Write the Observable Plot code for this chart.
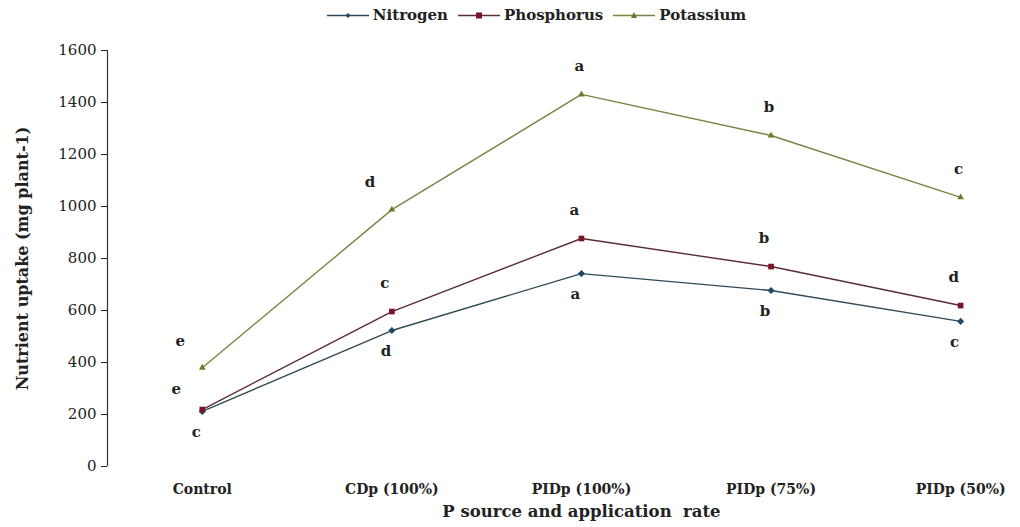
<!DOCTYPE html>
<html>
<head>
<meta charset="utf-8">
<script src="https://cdn.jsdelivr.net/npm/d3@7"></script>
<script src="https://cdn.jsdelivr.net/npm/@observablehq/plot@0.6"></script>
<style>
  body { margin: 0; background: #fff; font-family: "DejaVu Serif", "Liberation Serif", serif; }
  #legend { height: 30px; display: flex; justify-content: center; align-items: center; gap: 10px; font-weight: bold; font-size: 15px; color: #222; padding-left: 53px; box-sizing: border-box; }
  #legend .item { display: flex; align-items: center; gap: 4px; }
</style>
</head>
<body>
<div id="legend"></div>
<div id="chart"></div>
<script>
const categories = ["Control", "CDp (100%)", "PIDp (100%)", "PIDp (75%)", "PIDp (50%)"];
const seriesNames = ["Nitrogen", "Phosphorus", "Potassium"];
const nitrogen = [212, 523, 742, 677, 558];
const phosphorus = [219, 596, 877, 769, 619];
const potassium = [380, 988, 1431, 1273, 1035];
const nitrogenLetters = ["c", "d", "a", "b", "c"];
const phosphorusLetters = ["e", "c", "a", "b", "d"];
const potassiumLetters = ["e", "d", "a", "b", "c"];
const yTicks = [0, 200, 400, 600, 800, 1000, 1200, 1400, 1600];

const lineColors = {Nitrogen: "#2f4b58", Phosphorus: "#5a2c34", Potassium: "#7b8344"};
const markColors = {Nitrogen: "#1f4a66", Phosphorus: "#7a1426", Potassium: "#6b7a2a"};
const symbols = {Nitrogen: "diamond2", Phosphorus: "square", Potassium: "triangle2"};

const values = {Nitrogen: nitrogen, Phosphorus: phosphorus, Potassium: potassium};
const letters = {Nitrogen: nitrogenLetters, Phosphorus: phosphorusLetters, Potassium: potassiumLetters};
const data = seriesNames.flatMap(s => categories.map((c, i) => ({series: s, i, cat: c, value: values[s][i], letter: letters[s][i]})));
const bySeries = s => data.filter(d => d.series === s);

// legend
const leg = document.getElementById("legend");
for (const s of seriesNames) {
  const item = document.createElement("div");
  item.className = "item";
  const shape = s === "Nitrogen" ? '<path d="M21,13 L23.5,15.5 L21,18 L18.5,15.5Z" fill="' + markColors[s] + '"/>'
    : s === "Phosphorus" ? '<rect x="18" y="12.5" width="6" height="6" fill="' + markColors[s] + '"/>'
    : '<path d="M21,12 L24,18 L18,18Z" fill="' + markColors[s] + '"/>';
  item.innerHTML = '<svg width="42" height="30"><line x1="0" x2="42" y1="15.5" y2="15.5" stroke="' + lineColors[s] + '" stroke-width="1.5"/>' + shape + '</svg><span>' + s + '</span>';
  leg.appendChild(item);
}

const marks = [
  Plot.ruleX([-0.5], {stroke: "#333", strokeWidth: 1.2, y1: 0, y2: 1600}),
  Plot.axisY({ticks: yTicks, tickSize: 6, tickPadding: 5, fontSize: 15, label: null, tickFormat: d => String(d)}),
  Plot.axisX({ticks: d3.range(categories.length), tickSize: 0, tickPadding: 18, fontSize: 14, fontWeight: "bold", label: null, tickFormat: i => categories[i]}),
  Plot.text(["P source and application  rate"], {frameAnchor: "bottom", dy: 50, fontSize: 16.5, fontWeight: "bold", x: () => 2, textAnchor: "middle"}),
  Plot.text(["Nutrient uptake (mg plant-1)"], {frameAnchor: "left", dx: -85, rotate: -90, fontSize: 16, fontWeight: "bold", textAnchor: "middle"})
];
for (const s of seriesNames) {
  marks.push(Plot.line(bySeries(s), {x: "i", y: "value", stroke: lineColors[s], strokeWidth: 1.4}));
  marks.push(Plot.dot(bySeries(s), {x: "i", y: "value", symbol: symbols[s], fill: markColors[s], r: 3.2}));
}
// letters
marks.push(Plot.text(bySeries("Potassium").filter(d => d.i < 2), {x: "i", y: "value", text: "letter", dx: -22, dy: -27, fontSize: 15, fontWeight: "bold"}));
marks.push(Plot.text(bySeries("Potassium").filter(d => d.i >= 2), {x: "i", y: "value", text: "letter", dx: -2, dy: -28, fontSize: 15, fontWeight: "bold"}));
marks.push(Plot.text(bySeries("Phosphorus").filter(d => d.i === 0), {x: "i", y: "value", text: "letter", dx: -26, dy: -20, fontSize: 15, fontWeight: "bold"}));
marks.push(Plot.text(bySeries("Phosphorus").filter(d => d.i > 0), {x: "i", y: "value", text: "letter", dx: -7, dy: -28, fontSize: 15, fontWeight: "bold"}));
marks.push(Plot.text(bySeries("Nitrogen"), {x: "i", y: "value", text: "letter", dx: -6, dy: 21, fontSize: 15, fontWeight: "bold"}));

const chart = Plot.plot({
  width: 1020,
  height: 497,
  marginTop: 20,
  marginBottom: 61,
  marginLeft: 107,
  marginRight: 3,
  style: {fontFamily: "'DejaVu Serif', 'Liberation Serif', serif", color: "#222", background: "#fff"},
  x: {type: "linear", domain: [-0.5, 4.3]},
  y: {domain: [0, 1600]},
  marks
});
document.getElementById("chart").appendChild(chart);
</script>
</body>
</html>
